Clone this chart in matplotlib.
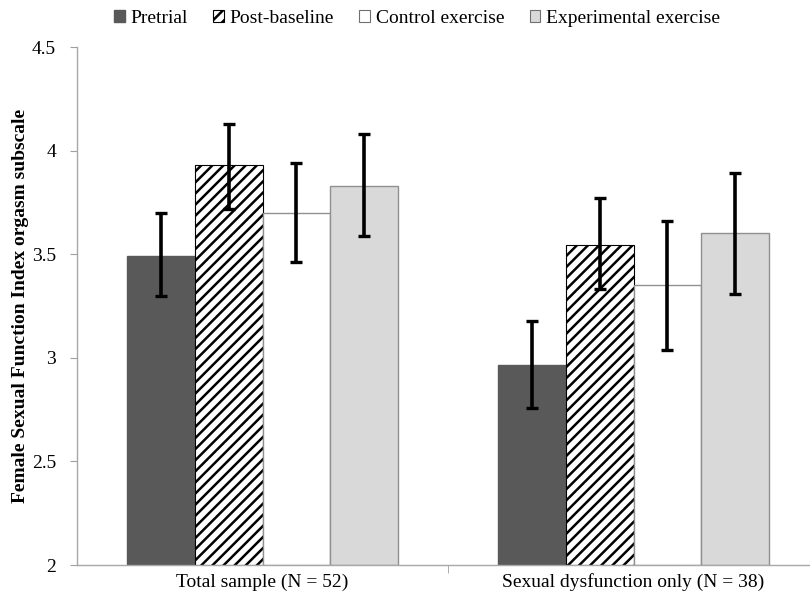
import matplotlib
matplotlib.use("Agg")
import matplotlib.pyplot as plt
import numpy as np
from matplotlib.patches import Patch

groups = ["Total sample (N = 52)", "Sexual dysfunction only (N = 38)"]
series = ["Pretrial", "Post-baseline", "Control exercise", "Experimental exercise"]
means = {
    "Pretrial": [3.49, 2.965],
    "Post-baseline": [3.93, 3.545],
    "Control exercise": [3.70, 3.35],
    "Experimental exercise": [3.83, 3.60],
}
err_hi = {
    "Pretrial": [3.70, 3.18],
    "Post-baseline": [4.13, 3.77],
    "Control exercise": [3.94, 3.66],
    "Experimental exercise": [4.08, 3.89],
}
err_lo = {
    "Pretrial": [3.30, 2.76],
    "Post-baseline": [3.72, 3.33],
    "Control exercise": [3.46, 3.04],
    "Experimental exercise": [3.59, 3.31],
}

plt.rcParams['font.family'] = ['Liberation Serif', 'DejaVu Serif']
plt.rcParams['hatch.linewidth'] = 1.8
plt.rcParams['hatch.color'] = 'black'

styles = {
    "Pretrial": dict(color='#595959', edgecolor='#595959'),
    "Post-baseline": dict(color='white', edgecolor='black', hatch='///', linewidth=0.8),
    "Control exercise": dict(color='white', edgecolor='#909090'),
    "Experimental exercise": dict(color='#d9d9d9', edgecolor='#909090'),
}

fig = plt.figure(figsize=(8.1, 6.04), dpi=100)
ax = fig.add_axes([77 / 810, 39 / 604, 742 / 810, 518 / 604])

x = np.arange(len(groups))
w = 0.182
for i, s in enumerate(series):
    pos = x + (i - 1.5) * w
    m = np.array(means[s])
    lo = m - np.array(err_lo[s])
    hi = np.array(err_hi[s]) - m
    ax.bar(pos, m - 2, width=w, bottom=2, zorder=2, **styles[s])
    ax.errorbar(pos, m, yerr=[lo, hi], fmt='none', ecolor='black',
                elinewidth=2.6, capsize=4, capthick=2.4, zorder=3)

ax.set_xlim(-0.5, 1.5)
ax.set_ylim(2, 4.5)
ax.set_yticks([2, 2.5, 3, 3.5, 4, 4.5])
ax.set_yticklabels(["2", "2.5", "3", "3.5", "4", "4.5"])
ax.set_xticks(x)
ax.set_xticklabels(groups)
ax.set_xticks([0.5], minor=True)
ax.tick_params(axis='x', which='major', length=0, pad=6, labelsize=14)
ax.tick_params(axis='x', which='minor', length=6, color='#a0a0a0', direction='out')
ax.tick_params(axis='y', length=5, color='#a0a0a0', labelsize=14, pad=10)
for side in ['top', 'right']:
    ax.spines[side].set_visible(False)
for side in ['left', 'bottom']:
    ax.spines[side].set_color('#a8a8a8')
    ax.spines[side].set_linewidth(1.0)
ax.set_ylabel("Female Sexual Function Index orgasm subscale", fontweight='bold',
              fontsize=14, labelpad=2)

handles = [Patch(facecolor='#595959', edgecolor='#595959'),
           Patch(facecolor='white', edgecolor='black', hatch='///', linewidth=0.8),
           Patch(facecolor='white', edgecolor='#707070', linewidth=0.8),
           Patch(facecolor='#d9d9d9', edgecolor='#707070', linewidth=0.8)]
fig.legend(handles, series, loc='center', bbox_to_anchor=(0.515, 0.970), ncol=4,
           frameon=False, fontsize=14, handlelength=0.55, handleheight=0.55,
           handletextpad=0.3, columnspacing=1.3)

fig.savefig("out.png", dpi=100)
